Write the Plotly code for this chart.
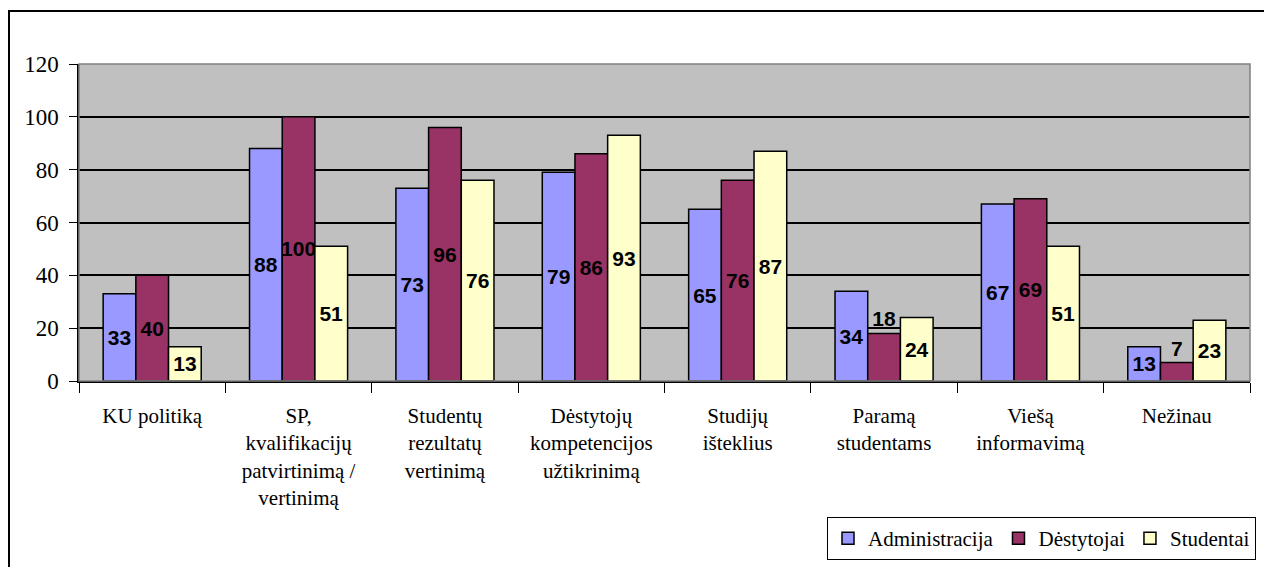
import plotly.graph_objects as go

categories = ["KU politiką", "SP,<br>kvalifikacijų<br>patvirtinimą /<br>vertinimą",
              "Studentų<br>rezultatų<br>vertinimą", "Dėstytojų<br>kompetencijos<br>užtikrinimą",
              "Studijų<br>išteklius", "Paramą<br>studentams", "Viešą<br>informavimą", "Nežinau"]
administracija = [33, 88, 73, 79, 65, 34, 67, 13]
destytojai = [40, 100, 96, 86, 76, 18, 69, 7]
studentai = [13, 51, 76, 93, 87, 24, 51, 23]
y_ticks = [0, 20, 40, 60, 80, 100, 120]

series = [("Administracija", administracija, "#9999FF"),
          ("Dėstytojai", destytojai, "#993366"),
          ("Studentai", studentai, "#FFFFCC")]

SERIF = "Times New Roman, Liberation Serif, serif"
SANS = "Arial, Liberation Sans, sans-serif"
lab_font = dict(family=SANS, size=21, color="black", weight="bold")

fig = go.Figure()
for name, vals, color in series:
    fig.add_trace(go.Bar(
        x=categories, y=vals, name=name,
        marker=dict(color=color, line=dict(color="black", width=1.5)),
        text=[str(v) for v in vals],
        textposition=["outside" if v < 20 and name == "Dėstytojai" else "inside" for v in vals],
        insidetextanchor="middle",
        textangle=0,
        cliponaxis=False,
        textfont=lab_font,
        outsidetextfont=lab_font,
        insidetextfont=lab_font,
    ))

fig.update_layout(
    width=1264, height=567,
    margin=dict(l=79, r=14, t=64, b=186, autoexpand=False),
    paper_bgcolor="white", plot_bgcolor="#C0C0C0",
    barmode="group", bargap=0.33, bargroupgap=0,
    uniformtext=dict(minsize=21, mode="show"),
    font=dict(family=SERIF, size=21, color="black"),
    legend=dict(orientation="h", xref="container", yref="container",
                x=1256 / 1264, y=(567 - 517) / 567, xanchor="right", yanchor="top",
                bordercolor="black", borderwidth=1, bgcolor="white",
                font=dict(family=SERIF, size=21),
                itemwidth=30, tracegroupgap=0),
    xaxis=dict(showgrid=False, tickson="boundaries", ticks="outside", ticklen=10,
               tickcolor="black", linecolor="black", linewidth=1.5, showline=True,
               ticklabelstandoff=15, automargin=False,
               tickfont=dict(family=SERIF, size=21)),
    yaxis=dict(range=[0, 120], tickvals=y_ticks, showgrid=True, gridcolor="black",
               gridwidth=1.5, ticks="outside", ticklen=8, tickcolor="black",
               showline=True, linecolor="black", linewidth=1.5, zeroline=False,
               ticklabelstandoff=6, automargin=False,
               tickfont=dict(family=SERIF, size=23)),
    shapes=[
        dict(type="rect", xref="paper", yref="paper", x0=0, x1=1, y0=0, y1=1,
             line=dict(color="#808080", width=1.5), layer="above"),
        dict(type="rect", xref="paper", yref="paper",
             x0=(9 - 79) / 1171, x1=1.05, y0=(381 - 11) / 317, y1=-0.7,
             line=dict(color="black", width=2)),
    ],
)

fig.write_html("out.html", config={"displayModeBar": False},
               post_script="document.body.style.margin='0';document.body.style.padding='0';")
